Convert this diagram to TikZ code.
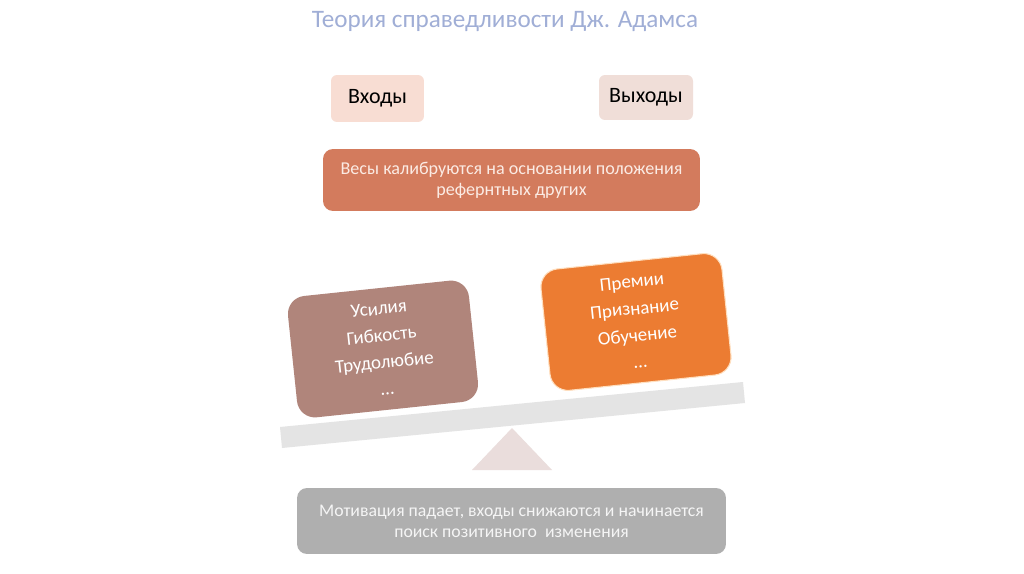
\documentclass[tikz,border=0pt]{standalone}
\usepackage{fontspec}
\setmainfont{Carlito}
\usepackage{xcolor}
\usepackage{tikz}
\definecolor{titleblue}{RGB}{160,174,214}
\definecolor{inpink}{RGB}{248,221,211}
\definecolor{outpink}{RGB}{240,222,216}
\definecolor{calibred}{RGB}{211,123,93}
\definecolor{effortbrown}{RGB}{176,133,123}
\definecolor{rewardorange}{RGB}{236,124,50}
\definecolor{beamgray}{RGB}{228,228,228}
\definecolor{fulcrumpink}{RGB}{234,221,220}
\definecolor{resultgray}{RGB}{175,175,175}

\begin{document}
\begin{tikzpicture}[
    x=0.02cm, y=-0.02cm,
    tag/.style={rectangle, rounded corners=0.12cm, inner sep=0pt, font=\fontsize{12.5}{15}\selectfont},
    banner/.style={rectangle, rounded corners=0.2cm, inner sep=0pt, align=center, font=\fontsize{10.3}{12}\selectfont},
    pan/.style={rectangle, rounded corners=0.36cm, inner sep=0pt, align=center, rotate=6,
        minimum width=3.64cm, minimum height=2.44cm, text=white, font=\fontsize{10.8}{15.3}\selectfont}
]
    \useasboundingbox[fill=white] (0,0) rectangle (1024,574);

    \node[text=titleblue, font=\fontsize{14.3}{16}\selectfont] (title) at (505,22) {Теория справедливости Дж. Адамса};

    \node[tag, fill=inpink, minimum width=1.86cm, minimum height=0.94cm] (inputs) at (377.5,98.5) {Входы};
    \node[tag, fill=outpink, minimum width=1.88cm, minimum height=0.9cm] (outputs) at (646,97.5) {Выходы};

    \node[banner, fill=calibred, text=inpink!60!white, minimum width=7.54cm, minimum height=1.24cm] (calib) at (511.5,180)
        {Весы калибруются на основании положения\\ рефернтных других};

    % scales
    \fill[beamgray] (280,427) -- (743,382) -- (745,403) -- (282,448) -- cycle;
    \fill[fulcrumpink] (512,428) -- (552,470) -- (472,470) -- cycle;

    \node[pan, fill=effortbrown] (efforts) at (383,349) {Усилия\\ Гибкость\\ Трудолюбие\\ \ldots};
    \node[pan, fill=rewardorange, draw=orange!25, line width=0.6pt] (rewards) at (636,322) {Премии\\ Признание\\ Обучение\\ \ldots};

    \node[banner, fill=resultgray, text=white!96!black, font=\fontsize{10.1}{12}\selectfont, minimum width=8.58cm, minimum height=1.32cm] (result) at (511.5,521)
        {Мотивация падает, входы снижаются и начинается\\ поиск позитивного\ \ изменения};
\end{tikzpicture}
\end{document}
